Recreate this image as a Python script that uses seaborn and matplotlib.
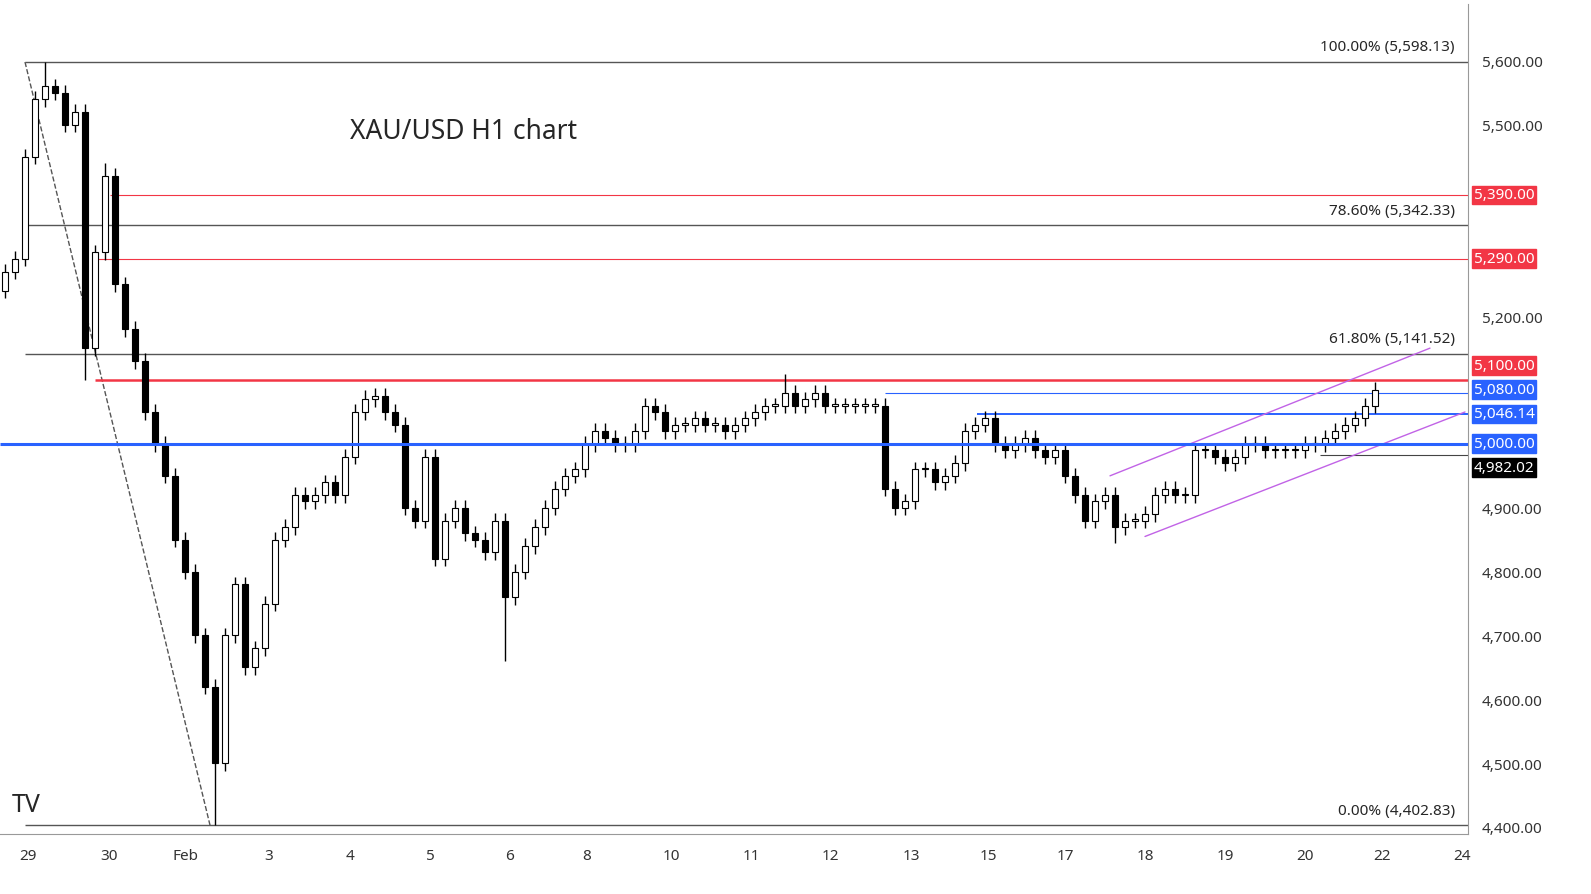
import numpy as np
import pandas as pd
import matplotlib
matplotlib.use("Agg")
import matplotlib.pyplot as plt
import seaborn as sns

sns.set_style("white")
plt.rcParams['font.family'] = ['Noto Sans', 'DejaVu Sans']

# closes of 3-hour bars
closes = [5270, 5290, 5450, 5540, 5560, 5550, 5500, 5520, 5150, 5300,
          5420, 5250, 5180, 5130, 5050, 5000, 4950, 4850, 4800, 4700,
          4620, 4500, 4700, 4780, 4650, 4680, 4750, 4850, 4870, 4920,
          4910, 4920, 4940, 4920, 4980, 5050, 5070, 5075, 5050, 5030,
          4900, 4880, 4980, 4820, 4880, 4900, 4860, 4850, 4830, 4880,
          4760, 4800, 4840, 4870, 4900, 4930, 4950, 4960, 5000, 5020,
          5010, 5000, 5000, 5020, 5060, 5050, 5020, 5030, 5030, 5040,
          5030, 5030, 5020, 5030, 5040, 5050, 5060, 5060, 5080, 5060,
          5070, 5080, 5060, 5060, 5060, 5060, 5060, 5060, 4930, 4900,
          4910, 4960, 4960, 4940, 4950, 4970, 5020, 5030, 5040, 5000,
          4990, 5000, 5010, 4990, 4980, 4990, 4950, 4920, 4880, 4910,
          4920, 4870, 4880, 4880, 4890, 4920, 4930, 4920, 4920, 4990,
          4990, 4980, 4970, 4980, 5000, 5000, 4990, 4990, 4990, 4990,
          5000, 5000, 5010, 5020, 5030, 5040, 5060, 5085]
first_open = 5240
high_override = {4: 5598.13, 10: 5440, 36: 5085, 78: 5110}
low_override = {21: 4402.83, 8: 5100, 50: 4660, 111: 4845}

tick_labels = ["29", "30", "Feb", "3", "4", "5", "6", "8", "10", "11", "12",
               "13", "15", "17", "18", "19", "20", "22", "24"]
tick_px = [28, 109, 186, 269, 350, 430, 510, 587, 671, 751, 830,
           911, 988, 1065, 1145, 1225, 1305, 1382, 1462]
y_ticks = [4400, 4500, 4600, 4700, 4800, 4900, 5200, 5500, 5600]

fib_levels = [5598.13, 5342.33, 5141.52, 4402.83]
fib_names = ["100.00%", "78.60%", "61.80%", "0.00%"]
last_price = 4982.02
box_levels = [5390, 5290, 5100, 5080, 5046.14, 5000, last_price]

RED, BLUE, PURPLE = "#f23645", "#2962ff", "#c163e6"

df = pd.DataFrame({"close": closes})
df["open"] = [first_open] + closes[:-1]
df["high"] = df[["open", "close"]].max(axis=1) + 12
df["low"] = df[["open", "close"]].min(axis=1) - 12
for k, v in high_override.items():
    df.loc[k, "high"] = v
for k, v in low_override.items():
    df.loc[k, "low"] = v
df["x"] = np.arange(len(df))

W, H = 1591, 895
fig = plt.figure(figsize=(W / 100, H / 100), dpi=100)
ax = fig.add_axes([0, 1 - 835 / H, 1468 / W, 830 / H])
px = lambda p: p / 10 - 0.5  # pixel -> bar index
ax.set_xlim(px(0), px(1468))
ax.set_ylim(4389, 5689)

up = df["close"] >= df["open"]
ax.vlines(df["x"], df["low"], df["high"], color="black", lw=1, zorder=3)
ax.bar(df["x"][up], (df["close"] - df["open"])[up].clip(lower=2), bottom=df["open"][up],
       width=0.6, color="white", edgecolor="black", lw=0.8, zorder=4)
ax.bar(df["x"][~up], (df["open"] - df["close"])[~up], bottom=df["close"][~up],
       width=0.6, color="black", edgecolor="black", lw=0.8, zorder=4)

xend = px(1468)
for lv, nm in zip(fib_levels, fib_names):
    ax.hlines(lv, px(25), xend, color="#555555", lw=1, zorder=2)
    ax.text(px(1455), lv + 12, f"{nm} ({lv:,.2f})", ha="right", va="bottom", fontsize=11)
ax.plot([px(25), px(210)], [5598.13, 4402.83], ls="--", color="#555555", lw=1, zorder=2)

ax.hlines(5390, px(110), xend, color=RED, lw=0.8)
ax.hlines(5290, px(97), xend, color=RED, lw=0.8)
ax.hlines(5100, px(95), xend, color=RED, lw=1.8)
ax.hlines(5080, px(885), xend, color=BLUE, lw=0.8)
ax.hlines(5046.14, px(977), xend, color=BLUE, lw=1.4)
ax.hlines(5000, px(0), xend, color=BLUE, lw=2.2, zorder=5)
ax.hlines(last_price, px(1320), xend, color="#444444", lw=0.8)

ax.plot([px(1110), px(1430)], [4950, 5150], color=PURPLE, lw=1)
ax.plot([px(1145), px(1465)], [4855, 5050], color=PURPLE, lw=1)

ax.text(px(350), 5490, "XAU/USD H1 chart", fontsize=19, va="center")

ax.set_xticks([px(p) for p in tick_px])
ax.set_xticklabels(tick_labels, fontsize=11, color="#333333")
ax.yaxis.tick_right()
ax.set_yticks(y_ticks)
ax.set_yticklabels([f"{v:,.2f}" for v in y_ticks], fontsize=11, color="#333333")
ax.tick_params(length=0, pad=10)
for s in ["top", "left"]:
    ax.spines[s].set_visible(False)
ax.spines["right"].set_color("#999999")
ax.spines["bottom"].set_color("#999999")

# label boxes are pushed apart on the axis like the original
box_pos = [5390, 5290, 5123, 5085, 5047, 5001, 4963]
box_col = [RED, RED, RED, BLUE, BLUE, BLUE, "black"]
for lv, yp, c in zip(box_levels, box_pos, box_col):
    ax.annotate(f"{lv:,.2f}", xy=(1, yp), xycoords=("axes fraction", "data"),
                xytext=(4, 0), textcoords="offset points", ha="left", va="center",
                fontsize=11, color="white", fontweight="bold",
                bbox=dict(boxstyle="square,pad=0.12", fc=c, ec=c), annotation_clip=False)

ax.text(px(12), 4435, "TV", fontsize=18, fontweight="heavy", va="center")
fig.savefig("out.png", dpi=100)
